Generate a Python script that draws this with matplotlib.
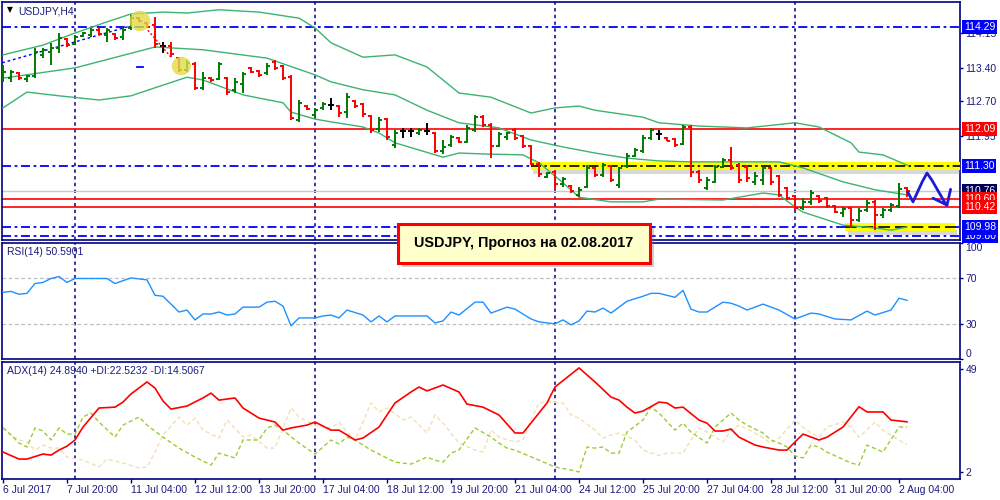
import numpy as np
import matplotlib
matplotlib.use("Agg")
import matplotlib.pyplot as plt
from matplotlib.patches import Rectangle, Ellipse

plt.rcParams["font.family"] = ["Liberation Sans", "DejaVu Sans"]

navy = "#000080"
txt = "#1a1a80"

# H4 bars, bar 0 = 6 Jul 12:00, last bar = 2 Aug 08:00
opens = [113.19, 113.19, 113.30, 113.17, 113.24, 113.69, 113.75, 113.84, 114.03, 113.92,
         114.10, 114.12, 114.22, 114.12, 114.14, 114.07, 114.27, 114.48, 114.37, 114.33,
         113.88, 113.88, 113.62, 113.36, 113.49, 112.98, 113.19, 113.17, 113.19, 112.94,
         113.06, 113.41, 113.34, 113.30, 113.54, 113.45, 113.21, 112.29, 112.59, 112.40,
         112.55, 112.61, 112.59, 112.46, 112.70, 112.63, 112.38, 112.10, 112.31, 111.75,
         112.05, 112.05, 112.01, 112.05, 112.01, 111.62, 111.75, 111.90, 111.82, 112.08,
         112.35, 112.18, 111.73, 111.92, 112.08, 111.95, 111.73, 111.34, 111.06, 111.17,
         110.91, 110.87, 110.68, 110.85, 111.26, 111.11, 111.30, 110.89, 111.30, 111.52,
         111.62, 111.90, 111.99, 111.90, 111.88, 111.77, 112.14, 111.17, 110.83, 110.96,
         111.28, 111.43, 111.32, 111.28, 110.96, 111.00, 111.26, 111.09, 110.83, 110.66,
         110.40, 110.53, 110.66, 110.61, 110.44, 110.29, 110.40, 110.14, 110.35, 110.53,
         110.25, 110.35, 110.44, 110.83]
highs = [113.47, 113.36, 113.32, 113.26, 113.84, 113.84, 113.95, 114.16, 114.05, 114.12,
         114.18, 114.27, 114.27, 114.27, 114.16, 114.27, 114.55, 114.50, 114.40, 114.50,
         113.97, 113.97, 113.64, 113.58, 113.54, 113.32, 113.21, 113.54, 113.21, 113.19,
         113.32, 113.43, 113.36, 113.51, 113.58, 113.47, 113.26, 112.72, 112.61, 112.55,
         112.68, 112.76, 112.61, 112.87, 112.72, 112.65, 112.40, 112.35, 112.33, 112.08,
         112.12, 112.12, 112.12, 112.23, 112.03, 111.86, 111.97, 111.92, 112.18, 112.40,
         112.40, 112.23, 112.03, 112.03, 112.12, 111.97, 111.75, 111.38, 111.17, 111.21,
         111.06, 110.89, 110.85, 111.32, 111.28, 111.36, 111.32, 111.28, 111.58, 111.69,
         111.97, 112.12, 112.08, 111.92, 111.90, 112.18, 112.18, 111.21, 111.06, 111.32,
         111.47, 111.71, 111.36, 111.32, 111.17, 111.28, 111.28, 111.11, 110.85, 110.68,
         110.61, 110.78, 110.68, 110.63, 110.46, 110.42, 110.42, 110.40, 110.57, 110.57,
         110.40, 110.50, 110.94, 110.85]
lows = [113.11, 113.11, 113.15, 113.11, 113.19, 113.62, 113.47, 113.73, 113.86, 113.90,
        114.07, 114.07, 114.12, 113.97, 114.01, 114.01, 114.22, 114.40, 114.27, 113.84,
        113.73, 113.64, 113.32, 113.32, 112.93, 112.93, 113.11, 113.15, 112.83, 112.87,
        112.87, 113.30, 113.21, 113.26, 113.36, 113.15, 112.29, 112.25, 112.50, 112.33,
        112.50, 112.50, 112.35, 112.33, 112.55, 112.35, 112.01, 112.03, 111.86, 111.69,
        111.90, 111.92, 111.97, 111.97, 111.58, 111.56, 111.71, 111.80, 111.80, 112.03,
        112.14, 111.47, 111.71, 111.86, 111.86, 111.69, 111.32, 111.06, 111.04, 110.78,
        110.85, 110.72, 110.63, 110.83, 111.06, 111.06, 110.96, 110.83, 111.26, 111.49,
        111.58, 111.86, 111.86, 111.84, 111.71, 111.75, 111.06, 110.93, 110.78, 110.93,
        111.26, 111.21, 110.93, 110.96, 110.89, 110.89, 110.89, 110.63, 110.57, 110.35,
        110.35, 110.46, 110.50, 110.40, 110.29, 110.20, 109.97, 110.10, 110.31, 109.92,
        110.18, 110.31, 110.40, 110.63]
closes = [113.32, 113.32, 113.19, 113.24, 113.75, 113.79, 113.84, 114.05, 113.90, 114.07,
          114.16, 114.22, 114.14, 114.22, 114.05, 114.22, 114.48, 114.42, 114.29, 113.92,
          113.88, 113.71, 113.36, 113.51, 112.98, 113.19, 113.15, 113.49, 112.89, 113.11,
          113.28, 113.32, 113.26, 113.45, 113.41, 113.19, 112.33, 112.65, 112.53, 112.50,
          112.63, 112.61, 112.44, 112.78, 112.59, 112.42, 112.08, 112.29, 111.92, 112.01,
          112.05, 112.05, 112.08, 112.05, 111.62, 111.71, 111.92, 111.82, 112.12, 112.35,
          112.18, 111.73, 111.99, 112.01, 111.90, 111.73, 111.34, 111.13, 111.15, 110.91,
          111.02, 110.76, 110.78, 111.26, 111.11, 111.32, 111.00, 111.26, 111.52, 111.64,
          111.90, 112.08, 111.99, 111.84, 111.75, 112.14, 111.17, 111.00, 111.00, 111.28,
          111.43, 111.26, 111.00, 111.04, 111.09, 111.26, 110.96, 110.68, 110.61, 110.40,
          110.53, 110.72, 110.55, 110.44, 110.31, 110.38, 110.14, 110.33, 110.50, 110.25,
          110.35, 110.46, 110.81, 110.76]

# Bollinger bands read at some bars (bar index, price)
bb_up_x = [0, 5, 9, 13, 16, 20, 23, 27, 32, 37, 39, 41, 45, 49, 53, 57, 61, 66, 69, 72,
           74, 80, 82, 87, 93, 99, 102, 106, 107, 110, 113]
bb_up = [113.69, 113.90, 114.16, 114.40, 114.57, 114.61, 114.59, 114.66, 114.61, 114.48,
         114.27, 113.95, 113.64, 113.69, 113.43, 112.87, 112.78, 112.44, 112.55, 112.59,
         112.50, 112.35, 112.23, 112.16, 112.12, 112.23, 112.14, 111.80, 111.60, 111.54, 111.32]
bb_mid_x = [0, 9, 19, 25, 33, 39, 41, 45, 49, 53, 57, 62, 66, 70, 74, 78, 82, 86, 97, 100,
            105, 109, 113]
bb_mid = [113.19, 113.41, 113.86, 113.80, 113.62, 113.26, 113.11, 112.94, 112.83, 112.50,
          112.23, 112.12, 111.86, 111.71, 111.58, 111.47, 111.41, 111.39, 111.39, 111.26,
          110.96, 110.79, 110.68]
bb_low_x = [0, 3, 7, 12, 16, 20, 23, 25, 30, 35, 36, 39, 41, 45, 47, 49, 55, 57, 60, 65,
            67, 70, 72, 76, 80, 82, 90, 95, 97, 99, 100, 105, 109, 111, 113]
bb_low = [112.55, 112.89, 112.81, 112.72, 112.81, 113.04, 113.21, 113.15, 112.83, 112.66,
          112.46, 112.31, 112.25, 112.14, 112.01, 111.80, 111.49, 111.58, 111.56, 111.54,
          111.37, 110.94, 110.63, 110.53, 110.53, 110.59, 110.57, 110.72, 110.68, 110.42,
          110.31, 110.03, 109.97, 109.92, 109.99]

# RSI(14)
rsi_x = [0, 1, 2, 3, 4, 5, 6, 7, 8, 9, 12, 13, 14, 16, 18, 19, 20, 22, 23, 24, 25, 26, 27,
         28, 29, 30, 32, 33, 34, 35, 36, 37, 39, 40, 41, 42, 43, 45, 46, 47, 48, 49, 53, 54,
         55, 56, 57, 59, 60, 61, 63, 64, 66, 67, 69, 70, 71, 72, 73, 74, 75, 76, 78, 80, 81,
         82, 84, 85, 86, 87, 88, 90, 91, 92, 93, 95, 97, 99, 101, 102, 104, 106, 108, 109,
         111, 112, 113]
rsi_vals = [57.5, 58.3, 55.8, 56.6, 65.1, 66.0, 69.4, 71.1, 66.0, 69.4, 69.4, 69.4, 65.1,
            69.9, 68.2, 54.9, 54.1, 40.5, 42.2, 33.7, 38.8, 38.8, 40.5, 37.9, 38.8, 44.7,
            44.7, 49.0, 49.8, 45.6, 28.6, 35.4, 35.4, 37.1, 37.9, 35.4, 42.2, 37.9, 32.0,
            37.1, 32.0, 37.1, 37.1, 31.1, 32.8, 40.5, 37.9, 49.0, 49.0, 39.6, 44.7, 43.0,
            34.5, 32.0, 30.3, 33.7, 29.4, 32.8, 41.3, 40.5, 43.9, 39.6, 49.8, 54.1, 56.6,
            56.6, 53.2, 59.2, 43.0, 40.5, 40.5, 49.0, 48.1, 45.6, 42.2, 47.3, 42.2, 34.5,
            39.6, 38.8, 34.5, 33.7, 41.3, 37.9, 42.2, 52.4, 50.6]

# ADX(14) with +DI / -DI
adx_x = [0, 2, 3, 5, 6, 7, 8, 9, 10, 12, 14, 15, 16, 18, 19, 20, 21, 23, 25, 26, 27, 29,
         30, 32, 34, 35, 36, 38, 39, 41, 42, 43, 44, 45, 47, 49, 51, 52, 53, 55, 57, 58, 60,
         62, 64, 65, 68, 69, 72, 74, 76, 77, 78, 79, 80, 82, 83, 84, 85, 87, 88, 89, 90, 91,
         92, 94, 95, 97, 98, 99, 100, 102, 103, 105, 107, 108, 110, 111, 113]
adx_vals = [11.1, 7.9, 7.9, 10.2, 9.7, 12.0, 13.8, 16.6, 22.5, 31.2, 31.6, 33.9, 37.6, 43.1,
            40.3, 34.4, 30.7, 32.1, 35.8, 38.0, 34.8, 35.8, 31.2, 26.6, 24.8, 21.1, 22.1,
            23.4, 24.8, 21.1, 21.1, 18.9, 16.6, 17.5, 22.5, 33.5, 38.5, 40.8, 39.0, 41.7,
            38.5, 33.0, 31.6, 28.0, 19.8, 19.8, 33.5, 40.8, 49.5, 43.1, 36.2, 34.8, 31.6,
            28.9, 29.8, 33.9, 33.5, 31.2, 31.6, 25.7, 24.3, 20.7, 20.7, 21.6, 17.9, 14.3,
            13.4, 12.0, 12.0, 15.7, 19.3, 16.6, 17.9, 22.5, 31.8, 29.4, 29.4, 25.7, 24.9]
pdi_x = [0, 1, 2, 3, 4, 5, 6, 7, 8, 9, 10, 11, 12, 14, 15, 17, 18, 20, 22, 24, 26, 27, 29,
         30, 32, 33, 34, 35, 37, 39, 41, 42, 43, 44, 46, 49, 51, 53, 54, 55, 56, 57, 59, 61,
         62, 63, 64, 67, 69, 71, 72, 73, 74, 75, 76, 77, 78, 80, 81, 82, 84, 85, 86, 88, 89,
         91, 92, 93, 95, 96, 97, 98, 99, 100, 101, 102, 103, 106, 107, 108, 110, 112, 113]
pdi_vals = [22.1, 18.9, 15.2, 13.4, 22.1, 20.7, 16.6, 22.1, 19.3, 19.3, 27.1, 28.9, 24.8,
            17.9, 23.4, 27.1, 23.4, 17.9, 12.9, 8.8, 5.2, 10.6, 8.4, 16.6, 16.6, 22.1, 23.4,
            21.1, 15.2, 10.2, 16.6, 14.8, 17.9, 16.6, 12.0, 6.5, 5.6, 8.8, 7.4, 6.5, 10.6,
            12.0, 22.1, 17.9, 15.2, 12.9, 12.0, 7.4, 4.3, 2.9, 2.0, 13.4, 12.9, 13.4, 10.6,
            10.6, 20.2, 25.7, 31.6, 28.9, 21.1, 24.3, 20.2, 15.2, 22.5, 28.9, 25.7, 23.4,
            19.8, 16.6, 15.2, 13.4, 9.3, 8.4, 14.3, 13.4, 11.1, 6.1, 5.2, 14.3, 11.1, 22.5, 22.5]
mdi_x = [0, 1, 2, 3, 4, 5, 6, 7, 8, 10, 12, 13, 15, 17, 18, 19, 20, 22, 23, 24, 25, 27, 28,
         30, 31, 33, 34, 36, 37, 39, 41, 42, 43, 44, 45, 46, 47, 48, 50, 51, 53, 54, 55, 57,
         59, 60, 61, 62, 64, 65, 66, 67, 68, 70, 71, 72, 74, 75, 76, 77, 79, 80, 82, 83, 85,
         86, 87, 88, 89, 90, 91, 92, 94, 96, 97, 99, 100, 101, 102, 103, 105, 106, 107, 109,
         110, 112, 113]
mdi_vals = [22.5, 18.9, 16.6, 15.7, 12.0, 14.3, 12.9, 12.9, 8.8, 7.4, 4.3, 7.9, 6.1, 3.8,
            4.3, 11.1, 18.9, 27.1, 23.4, 26.6, 21.1, 17.5, 25.7, 17.9, 18.9, 12.9, 12.9, 31.2,
            27.1, 23.4, 22.0, 24.8, 20.2, 16.6, 24.8, 33.5, 29.4, 31.2, 25.7, 27.1, 19.8,
            28.0, 24.3, 15.2, 12.0, 11.1, 21.1, 17.9, 15.7, 16.6, 25.7, 33.5, 33.9, 33.5,
            28.0, 26.6, 21.1, 17.5, 18.9, 19.8, 16.6, 12.0, 9.5, 10.6, 10.6, 16.6, 22.1, 20.2,
            17.9, 15.7, 21.1, 23.4, 19.8, 15.2, 17.5, 25.7, 22.5, 19.8, 17.9, 22.5, 24.8,
            22.5, 17.9, 24.8, 21.1, 16.6, 14.5]

# time axis
date_pos = [0, 8, 16, 24, 32, 40, 48, 56, 64, 72, 80, 88, 96, 104, 112]
date_labels = ["6 Jul 2017", "7 Jul 20:00", "11 Jul 04:00", "12 Jul 12:00", "13 Jul 20:00",
               "17 Jul 04:00", "18 Jul 12:00", "19 Jul 20:00", "21 Jul 04:00", "24 Jul 12:00",
               "25 Jul 20:00", "27 Jul 04:00", "28 Jul 12:00", "31 Jul 20:00", "2 Aug 04:00"]
separators = [9, 39, 69, 99]

# price scale and drawn levels
price_ticks = [114.15, 113.40, 112.70, 111.95]
blue_levels = [114.29, 111.30, 109.98, 109.80]
red_levels = [112.09, 110.60, 110.42]
bid = 110.76
level_tags = [(110.76, "#00005a"), (114.29, "#0000ff"), (112.09, "#ff0000"), (111.30, "#0000ff"),
              (110.60, "#ff0000"), (110.42, "#ff0000"), (109.80, "#0000ff"), (109.98, "#0000ff")]

# yellow highlighted zones: (price, start bar, end bar)
zones = [(111.30, 66.0, 119.6), (109.98, 105.3, 119.0)]

# hand drawn forecast arrow
arrow_x = [113.1, 113.75, 114.9, 115.5, 116.1, 117.75]
arrow_y = [110.74, 110.53, 110.96, 111.15, 111.00, 110.51]

fig = plt.figure(figsize=(10, 5), dpi=100)
ax1 = fig.add_axes([0.002, 0.52, 0.958, 0.476])
ax2 = fig.add_axes([0.002, 0.282, 0.958, 0.232])
ax3 = fig.add_axes([0.002, 0.042, 0.958, 0.234])

for ax in (ax1, ax2, ax3):
    ax.set_xlim(-0.125, 119.625)
    for s in ax.spines.values():
        s.set_color(navy)
        s.set_linewidth(1.2)
    ax.yaxis.tick_right()
    ax.tick_params(axis="y", direction="out", length=2.5, width=1, color=navy,
                   labelsize=7.5, labelcolor=txt, pad=1.5)
    ax.tick_params(axis="x", bottom=False, labelbottom=False)
    for s in separators:
        ax.axvline(s, color=navy, lw=1.1, ls=(0, (2.2, 2.2)), zorder=1)

# ---- main chart ----
ax1.set_ylim(109.71, 114.827)
ax1.set_yticks(price_ticks)
ax1.set_yticklabels([f"{p:.2f}" for p in price_ticks])

for p in blue_levels:
    ax1.axhline(p, color="#0000ff", lw=1.3, ls=(0, (5, 2, 1.5, 2)), zorder=2)
for p in red_levels:
    ax1.axhline(p, color="#ff0000", lw=1.2, zorder=2)
ax1.axhline(bid, color="#c8c8c8", lw=1, zorder=2)

for p, x0, x1 in zones:
    ax1.add_patch(Rectangle((x0 + 0.3, p - 0.17), x1 - x0, 0.12, fc="#808080", ec="none",
                            alpha=0.3, zorder=3))
    ax1.add_patch(Rectangle((x0, p - 0.085), x1 - x0, 0.17, fc="#ffff00", ec="none", zorder=3.5))
ax1.hlines(zones[0][0], zones[0][1], zones[0][2], color="black", lw=1.2,
           ls=(0, (6, 2, 1.5, 2)), zorder=4)
ax1.hlines(zones[1][0], zones[1][1], zones[1][2], color="black", lw=1.2,
           ls=(0, (7, 3)), zorder=4)

bb_color = "#3cb371"
ax1.plot(bb_up_x, bb_up, color=bb_color, lw=1, zorder=4.5)
ax1.plot(bb_mid_x, bb_mid, color=bb_color, lw=1, zorder=4.5)
ax1.plot(bb_low_x, bb_low, color=bb_color, lw=1, zorder=4.5)

# OHLC bars
idx = np.arange(len(opens))
colors = []
for o, c in zip(opens, closes):
    if c > o:
        colors.append("#007a00")
    elif c < o:
        colors.append("#ff0000")
    else:
        colors.append("black")
ax1.vlines(idx, lows, highs, colors=colors, lw=1.4, zorder=5)
ax1.hlines(opens, idx - 0.4, idx, colors=colors, lw=1.4, zorder=5)
ax1.hlines(closes, idx, idx + 0.4, colors=colors, lw=1.4, zorder=5)

# marks on the chart
ax1.add_patch(Ellipse((17.1, 114.42), 2.6, 0.44, fc="#e0dc48", ec="none", alpha=0.8, zorder=6))
ax1.add_patch(Ellipse((22.3, 113.45), 2.4, 0.40, fc="#e0dc48", ec="none", alpha=0.8, zorder=6))
ax1.plot([-0.1, 15.9], [113.52, 114.31], color="#0000ff", lw=1, ls=(0, (2, 2)), zorder=4)
ax1.plot([18.1, 21.1], [114.22, 113.62], color="#ff0000", lw=1, ls=(0, (1.5, 1.5)), zorder=6)
ax1.plot([16.8, 17.5], [113.43, 113.43], color="#0000ff", lw=1.3, zorder=6)

ax1.plot(arrow_x, arrow_y, color="#1c1cd8", lw=2.0, solid_capstyle="round",
         solid_joinstyle="round", zorder=7)
ax1.plot([116.25, 118.0], [110.61, 110.46], color="#1c1cd8", lw=2.0, solid_capstyle="round", zorder=7)
ax1.plot([118.45, 118.0], [110.80, 110.46], color="#1c1cd8", lw=2.0, solid_capstyle="round", zorder=7)

# price tags on the right scale
for p, c in level_tags:
    ax1.text(1.004, p, f"{p:.2f}", transform=ax1.get_yaxis_transform(), color="white",
             fontsize=7.5, va="center", ha="left", clip_on=False, zorder=10,
             bbox=dict(boxstyle="square,pad=0.2", fc=c, ec="none"))

# ---- RSI ----
ax2.set_ylim(0.5, 100)
ax2.set_yticks([0, 30, 70, 100])
ax2.set_yticklabels(["0", "30", "70", "100"])
labs = ax2.get_yticklabels()
labs[0].set_va("bottom")
labs[3].set_va("top")
ax2.axhline(70, color="#c0c0c0", lw=0.9, ls=(0, (3, 2)), zorder=2)
ax2.axhline(30, color="#c0c0c0", lw=0.9, ls=(0, (3, 2)), zorder=2)
ax2.plot(rsi_x, rsi_vals, color="#1e90ff", lw=1, zorder=3)

# ---- ADX ----
ax3.set_ylim(-1.2, 52.2)
ax3.set_yticks([2, 49])
ax3.set_yticklabels(["2", "49"])
ax3.plot(mdi_x, mdi_vals, color="#f5deb3", lw=1, ls=(0, (3, 2)), zorder=2)
ax3.plot(pdi_x, pdi_vals, color="#9acd32", lw=1, ls=(0, (3, 2)), zorder=2)
ax3.plot(adx_x, adx_vals, color="#ff0000", lw=1.2, zorder=3)

ax3.set_xticks(date_pos)
ax3.set_xticklabels(date_labels, ha="left")
ax3.tick_params(axis="x", bottom=True, labelbottom=True, direction="out", length=3,
                width=1, color=navy, labelsize=7.5, labelcolor=txt, pad=1.5)

# ---- captions ----
fig.text(0.007, 1 - 10 / 500, "\u25bc", fontsize=5.5, color="black", va="center",
         family="DejaVu Sans")
fig.text(0.018, 1 - 11 / 500, "USDJPY,H4", fontsize=7.5, color=txt, va="center")
fig.text(0.007, 1 - 252 / 500, "RSI(14) 50.5901", fontsize=7.5, color=txt, va="center")
fig.text(0.007, 1 - 371 / 500, "ADX(14) 24.8940 +DI:22.5232 -DI:14.5067", fontsize=7.5,
         color=txt, va="center")

# forecast box
shadow = Rectangle((0.402, 0.466), 0.252, 0.078, transform=fig.transFigure,
                   fc="#707070", ec="none", alpha=0.35, zorder=20)
box = Rectangle((0.398, 0.474), 0.252, 0.078, transform=fig.transFigure,
                fc="#ffffcc", ec="#ff0000", lw=2.2, zorder=21)
fig.patches.extend([shadow, box])
fig.text(0.524, 0.513, "USDJPY, Прогноз на 02.08.2017", ha="center", va="center",
         fontsize=10.4, fontweight="bold", color="black", zorder=22)

fig.savefig("out.png", dpi=100)
